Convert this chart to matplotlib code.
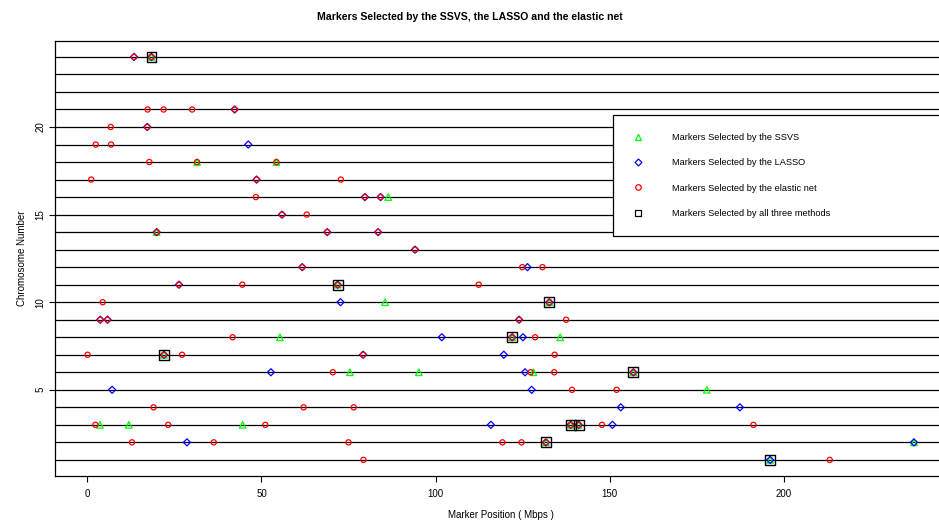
import matplotlib
matplotlib.use("Agg")
import matplotlib.pyplot as plt
from matplotlib.lines import Line2D

plt.rcParams['font.family'] = ['Liberation Sans', 'DejaVu Sans']

# chromosome / position (Mbps) of markers picked by each method
ssvs_chr = [24, 18, 18, 16, 14, 11, 10, 10, 8, 8, 8, 7, 6, 6, 6, 6, 5,
            3, 3, 3, 3, 3, 2, 2, 1]
ssvs_pos = [18.4, 31.5, 54.3, 86.4, 19.9, 71.9, 85.5, 132.7, 55.3, 122.0, 135.8,
            22.0, 75.4, 95.2, 128.1, 156.8, 177.9, 3.6, 11.9, 44.6, 138.8, 141.1,
            131.7, 237.4, 196.1]

lasso_chr = [24, 24, 21, 20, 19, 17, 16, 16, 15, 14, 14, 14, 13, 12, 12, 11, 11,
             10, 10, 9, 9, 9, 8, 8, 8, 7, 7, 7, 6, 6, 6, 5, 5, 4, 4,
             3, 3, 3, 3, 2, 2, 2, 1]
lasso_pos = [13.4, 18.4, 42.3, 17.2, 46.2, 48.6, 79.7, 84.2, 55.9, 19.9, 68.9, 83.5,
             94.1, 61.7, 126.4, 26.3, 71.9, 72.7, 132.7, 3.7, 5.8, 124.0, 101.8,
             122.0, 125.1, 22.0, 79.2, 119.6, 52.7, 125.7, 156.8, 7.1, 127.6,
             153.2, 187.4, 115.9, 138.8, 141.1, 150.8, 28.6, 131.7, 237.4, 196.1]

enet_chr = [24, 24, 21, 21, 21, 21, 20, 20, 19, 19, 18, 18, 18, 17, 17, 17,
            16, 16, 16, 15, 15, 14, 14, 14, 13, 12, 12, 12, 11, 11, 11, 11,
            10, 10, 9, 9, 9, 9, 8, 8, 8, 7, 7, 7, 7, 7, 6, 6, 6, 6, 5, 5,
            4, 4, 4, 3, 3, 3, 3, 3, 3, 3, 2, 2, 2, 2, 2, 2, 1, 1]
enet_pos = [13.4, 18.4, 17.3, 21.9, 30.1, 42.3, 6.7, 17.2, 2.4, 6.8, 17.8, 31.5,
            54.3, 1.1, 48.6, 72.8, 48.4, 79.7, 84.2, 55.9, 63.0, 19.9, 68.9, 83.5,
            94.1, 61.7, 124.9, 130.7, 26.3, 44.5, 71.9, 112.4, 4.4, 132.7, 3.7,
            5.8, 124.0, 137.5, 41.7, 122.0, 128.6, 0.05, 22.0, 27.2, 79.2, 134.2,
            70.5, 127.3, 134.1, 156.8, 139.2, 152.0, 19.0, 62.1, 76.5, 2.3, 23.2,
            51.1, 138.8, 141.1, 147.8, 191.3, 12.8, 36.3, 75.0, 119.2, 124.7,
            131.7, 79.3, 213.2]

all3_chr = [24, 11, 10, 8, 7, 6, 3, 3, 2, 1]
all3_pos = [18.4, 71.9, 132.7, 122.0, 22.0, 156.8, 138.8, 141.1, 131.7, 196.1]

chromosomes = list(range(1, 25))

W, H = 939, 521
fig = plt.figure(figsize=(W / 100, H / 100), dpi=100)
ax = fig.add_axes([54.5 / W, (H - 476) / H, (947 - 54.5) / W, (476 - 40.8) / H])

for c in chromosomes:
    ax.axhline(c, color='black', lw=0.9, zorder=1)

ax.scatter(ssvs_pos, ssvs_chr, marker='^', s=22, facecolors='none',
           edgecolors='#00ff00', linewidths=0.9, zorder=3)
ax.scatter(lasso_pos, lasso_chr, marker='D', s=13, facecolors='none',
           edgecolors='#0000ff', linewidths=0.9, zorder=4)
ax.scatter(enet_pos, enet_chr, marker='o', s=14, facecolors='none',
           edgecolors='#ff0000', linewidths=0.9, zorder=5)
ax.scatter(all3_pos, all3_chr, marker='s', s=50, facecolors='none',
           edgecolors='black', linewidths=1.0, zorder=6)

allpos = ssvs_pos + lasso_pos + enet_pos
lo, hi = min(allpos), max(allpos)
pad = 0.04 * (hi - lo)
ax.set_xlim(lo - pad, hi + pad)
pad_y = 0.04 * (max(chromosomes) - min(chromosomes))
ax.set_ylim(min(chromosomes) - pad_y, max(chromosomes) + pad_y)

ax.set_xticks([0, 50, 100, 150, 200])
ax.set_yticks([5, 10, 15, 20])
ax.tick_params(direction='out', length=4.5, width=0.8, labelsize=7)
ax.tick_params(axis='x', pad=5)
ax.tick_params(axis='y', pad=2)
for lab in ax.get_yticklabels():
    lab.set_rotation(90)
    lab.set_va('center')
for sp in ax.spines.values():
    sp.set_linewidth(0.9)

ax.set_xlabel('Marker Position ( Mbps )', fontsize=7, labelpad=7.5)
ax.set_ylabel('Chromosome Number', fontsize=7, labelpad=6)
fig.text(470 / W, 1 - 17 / H, 'Markers Selected by the SSVS, the LASSO and the elastic net',
         ha='center', va='center', fontsize=7.6, fontweight='bold')

handles = [
    Line2D([], [], ls='none', marker='^', ms=4.5, mfc='none', mec='#00ff00', mew=0.9),
    Line2D([], [], ls='none', marker='D', ms=3.5, mfc='none', mec='#0000ff', mew=0.9),
    Line2D([], [], ls='none', marker='o', ms=4, mfc='none', mec='#ff0000', mew=0.9),
    Line2D([], [], ls='none', marker='s', ms=4, mfc='none', mec='black', mew=0.9),
]
labels = ['Markers Selected by the SSVS', 'Markers Selected by the LASSO',
          'Markers Selected by the elastic net', 'Markers Selected by all three methods']
leg = fig.legend(handles, labels, loc='upper left',
                 bbox_to_anchor=(613 / W, 1 - 115 / H - 0.01, 360 / W, 0.01), mode='expand',
                 fontsize=6.7, frameon=True, fancybox=False, edgecolor='black',
                 framealpha=1, borderpad=1.95, labelspacing=1.75, handlelength=1.45,
                 handletextpad=2.9, borderaxespad=0)
leg.get_frame().set_linewidth(0.9)

fig.savefig('out.png', dpi=100)
